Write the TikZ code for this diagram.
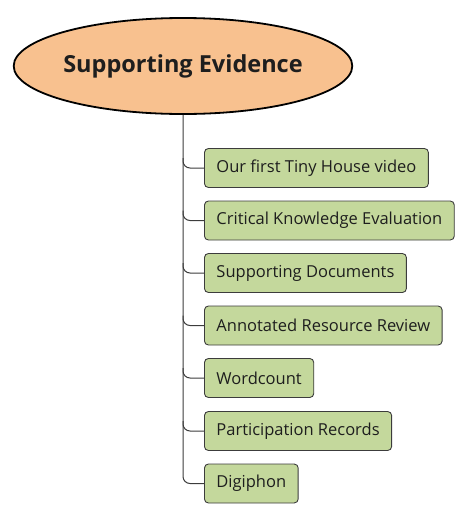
\documentclass[tikz,border=0pt]{standalone}
\usepackage{fontspec}
\setmainfont{Open Sans}
\usetikzlibrary{shapes.geometric}
\definecolor{ovalfill}{HTML}{F8C18F}
\definecolor{boxfill}{HTML}{C4D89C}
\definecolor{boxline}{HTML}{3C3C3C}
\definecolor{txt}{HTML}{1E1E1E}
\tikzset{
  title/.style={ellipse, draw=black, line width=1.8pt, fill=ovalfill, minimum width=331pt, minimum height=96pt, inner sep=0pt, font=\fontsize{23.5}{28}\selectfont\bfseries, text=txt},
  itembox/.style={draw=boxline, line width=0.9pt, fill=boxfill, rounded corners=4pt, anchor=west, minimum height=39pt, inner xsep=12pt, font=\fontsize{16.5}{19}\selectfont, text=txt},
  branch/.style={draw=boxline, line width=1pt, rounded corners=7pt},
}
\begin{document}
\begin{tikzpicture}[x=1pt,y=-1pt]
\useasboundingbox (0,0) rectangle (474,520);
\node[title] (root) at (183,66) {Supporting Evidence};
\node[itembox] (b1) at (204,168) {Our first Tiny House video};
\node[itembox] (b2) at (204,220.5) {Critical Knowledge Evaluation};
\node[itembox] (b3) at (204,273) {Supporting Documents};
\node[itembox] (b4) at (204,325.5) {Annotated Resource Review};
\node[itembox] (b5) at (204,378) {Wordcount};
\node[itembox] (b6) at (204,431) {Participation Records};
\node[itembox] (b7) at (204,483.5) {Digiphon};
\draw[branch] (root.south) -- (root.south |- b7.west) -- (b7.west);
\foreach \b in {b1,b2,b3,b4,b5,b6}{
  \draw[branch] ([yshift=10pt]root.south |- \b.west) -- (root.south |- \b.west) -- (\b.west);
}
\end{tikzpicture}
\end{document}
